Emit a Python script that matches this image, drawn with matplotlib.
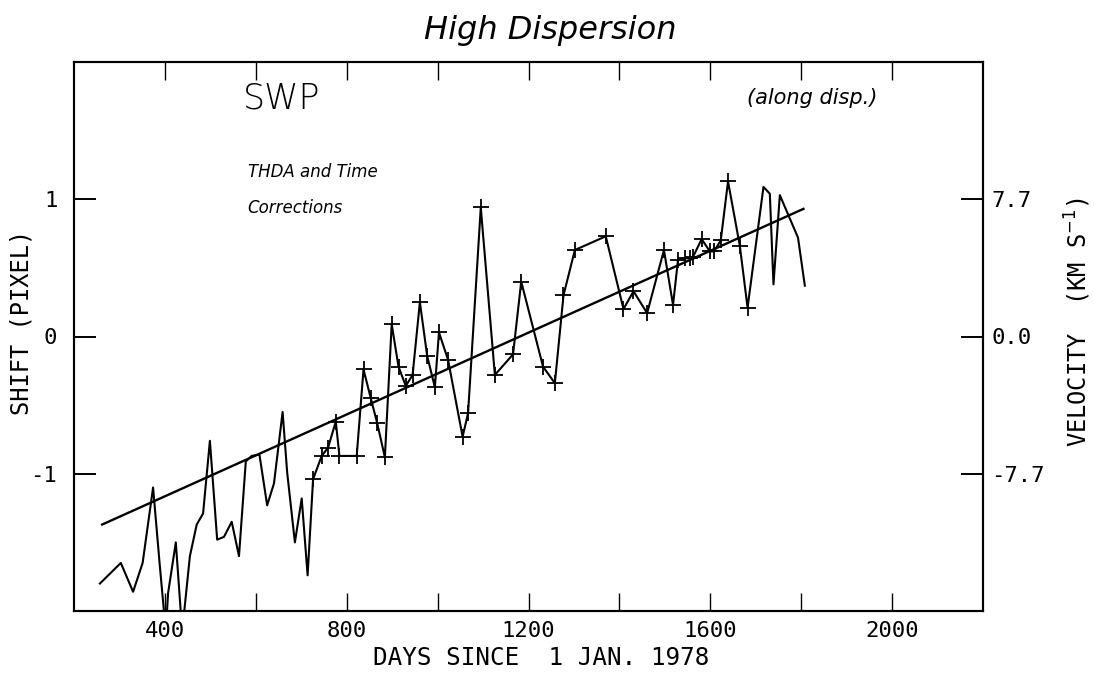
import matplotlib
matplotlib.use("Agg")
import matplotlib.pyplot as plt

days = [257, 303, 330, 351, 374, 388, 402, 407, 424, 438, 455, 470, 484, 499,
        515, 530, 547, 563, 578, 591, 608, 625, 640, 659, 669, 686, 701, 714,
        726, 745, 759, 776, 784, 822, 837, 853, 867, 884, 899, 914, 930, 945,
        961, 977, 994, 1003, 1023, 1055, 1067, 1095, 1126, 1166, 1184, 1232,
        1258, 1277, 1302, 1370, 1409, 1431, 1461, 1498, 1518, 1529, 1544, 1555,
        1562, 1581, 1599, 1608, 1623, 1639, 1665, 1682,
        1717, 1731, 1739, 1753, 1793, 1808]
shift = [-1.80, -1.65, -1.86, -1.65, -1.10, -1.64, -2.15, -1.87, -1.50, -2.15,
         -1.60, -1.37, -1.29, -0.76, -1.48, -1.46, -1.35, -1.60, -0.91, -0.87,
         -0.86, -1.23, -1.07, -0.55, -0.99, -1.50, -1.18, -1.74,
         -1.04, -0.87, -0.81, -0.62, -0.87, -0.87, -0.24, -0.45, -0.63, -0.88,
         0.09, -0.22, -0.36, -0.28, 0.25, -0.14, -0.37, 0.03, -0.17, -0.73,
         -0.56, 0.94, -0.28, -0.13, 0.40, -0.22, -0.34, 0.30, 0.63, 0.73, 0.20,
         0.33, 0.17, 0.63, 0.23, 0.56, 0.57, 0.57, 0.58, 0.71, 0.62, 0.62, 0.70,
         1.13, 0.66, 0.21,
         1.09, 1.04, 0.38, 1.03, 0.72, 0.37]
# first and last point drawn with a "+"
first_marked = 726
last_marked = 1682

# fitted straight line (end points)
fit_days = [262, 1805]
fit_shift = [-1.37, 0.93]

xticks = [400, 800, 1200, 1600, 2000]
minor_x = [400, 600, 800, 1000, 1200, 1400, 1600, 1800, 2000]
yticks = [-1, 0, 1]
ylabels_left = ["-1", "0", "1"]
ylabels_right = ["-7.7", "0.0", "7.7"]

mono = ["DejaVu Sans Mono", "DejaVu Sans"]
plt.rcParams["mathtext.fontset"] = "dejavusans"

fig = plt.figure(figsize=(10.94, 6.73), dpi=100)
ax = fig.add_axes([74 / 1094, 62 / 673, 909 / 1094, 549 / 673])

i0 = days.index(first_marked)
i1 = days.index(last_marked)
ax.plot(days, shift, color="black", lw=1.5, marker="+", ms=12, mew=1.3,
        markevery=list(range(i0, i1 + 1)))
ax.plot(fit_days, fit_shift, color="black", lw=1.7)

ax.set_xlim(200, 2200)
ax.set_ylim(-2, 2)

ax.set_xticks(minor_x)
ax.set_xticklabels([str(d) if d in xticks else "" for d in minor_x],
                   family=mono, fontsize=16)
ax.set_yticks(yticks)
ax.set_yticklabels(ylabels_left, family=mono, fontsize=16)
ax.tick_params(axis="x", direction="in", length=13, width=1, top=True, pad=7)
ax.tick_params(axis="y", direction="in", length=16, width=1.4, pad=12)

ax2 = ax.twinx()
ax2.set_ylim(-2, 2)
ax2.set_yticks(yticks)
ax2.set_yticklabels(ylabels_right, family=mono, fontsize=16)
ax2.tick_params(axis="y", direction="in", length=16, width=1.4, pad=6)

for a in (ax, ax2):
    for s in a.spines.values():
        s.set_linewidth(1.5)

fig.text(541 / 1094, 1 - 658 / 673, "DAYS SINCE  1 JAN. 1978", family=mono,
         fontsize=17.5, ha="center", va="center")
fig.text(22 / 1094, 1 - 322 / 673, "SHIFT (PIXEL)", family=mono, fontsize=17,
         rotation=90, ha="center", va="center")
fig.text(1078 / 1094, 1 - 322 / 673, "VELOCITY  (KM S$^{-1}$)", family=mono,
         fontsize=17, rotation=90, ha="center", va="center")

fig.text(550 / 1094, 1 - 30 / 673, "High Dispersion", fontsize=23,
         style="italic", ha="center", va="center")
ax.text(0.186, 0.934, "SWP", transform=ax.transAxes, fontsize=25,
        fontweight="light", ha="left", va="center")
ax.text(0.812, 0.934, "(along disp.)", transform=ax.transAxes, fontsize=15,
        style="italic", ha="center", va="center")
ax.text(0.191, 0.800, "THDA and Time", transform=ax.transAxes, fontsize=12,
        style="italic", ha="left", va="center")
ax.text(0.191, 0.734, "Corrections", transform=ax.transAxes, fontsize=12,
        style="italic", ha="left", va="center")

fig.savefig("out.png", dpi=100)
